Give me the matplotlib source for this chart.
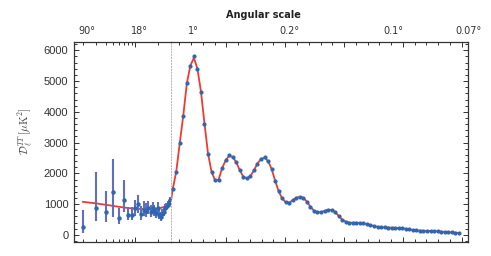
import numpy as np
import matplotlib.pyplot as plt
from matplotlib.ticker import FixedLocator, MultipleLocator, NullFormatter
from matplotlib.transforms import blended_transform_factory

# low-l data (one point per multipole)
ell_lo = list(range(2, 30))
dl_lo = [250, 885, 735, 1400, 540, 1120, 655, 655, 865, 995, 680, 810, 775, 865,
         755, 865, 775, 700, 865, 645, 570, 680, 755, 865, 915, 970, 1025, 1135]
err_lo_minus = [190, 420, 300, 810, 180, 370, 170, 170, 250, 290, 190, 200, 190, 190,
                170, 180, 170, 150, 160, 140, 130, 130, 130, 120, 120, 110, 110, 100]
err_lo_plus = [560, 1145, 700, 1080, 320, 660, 260, 260, 270, 300, 270, 280, 260, 250,
               230, 220, 210, 190, 190, 170, 160, 150, 150, 140, 130, 130, 120, 110]

# high-l binned data (bins of 30)
ell_hi = [44.5 + 30 * i for i in range(82)]
dl_hi = [1490, 2050, 2990, 3880, 4930, 5480, 5820, 5390, 4660, 3620,
         2640, 2050, 1770, 1800, 2170, 2430, 2590, 2535, 2360, 2100,
         1890, 1835, 1910, 2100, 2320, 2480, 2530, 2400, 2150, 1760,
         1420, 1185, 1055, 1045, 1130, 1215, 1240, 1210, 1080, 915,
         790, 735, 740, 780, 825, 815, 740, 620, 500, 430,
         400, 395, 400, 395, 380, 355, 320, 290, 265, 250,
         245, 240, 235, 230, 225, 215, 200, 180, 160, 145,
         140, 135, 130, 130, 125, 120, 110, 100, 90, 80,
         75, 60]

# best-fit model curve
ell_model_lo = list(range(2, 31))
model_lo = [1075, 1025, 980, 945, 915, 892, 875, 862, 854, 848, 845, 843, 843, 844,
            846, 849, 853, 858, 864, 872, 882, 894, 908, 925, 945, 970, 1000, 1045, 1105]
ell_model_hi = [30] + ell_hi
model_hi = [1105, 1490, 2050, 2990, 3890, 4930, 5500, 5760, 5400, 4660, 3620,
            2640, 2050, 1775, 1800, 2170, 2430, 2570, 2535, 2360, 2100,
            1890, 1840, 1910, 2100, 2320, 2470, 2510, 2400, 2150, 1760,
            1420, 1185, 1060, 1050, 1130, 1210, 1235, 1205, 1080, 915,
            790, 738, 742, 780, 818, 810, 740, 620, 500, 430,
            400, 395, 398, 392, 378, 352, 320, 290, 265, 250,
            244, 240, 235, 230, 224, 214, 200, 180, 160, 146,
            140, 135, 131, 129, 125, 119, 110, 100, 90, 80,
            74, 62]

top_ell = [2, 10, 185, 1000, 1880, 2525]
top_labels = ['90°', '18°', '1°', '0.2°', '0.1°', '0.07°']

W, H = 491, 256
fig = plt.figure(figsize=(W / 100, H / 100), dpi=100)
y0, h = 14 / H, 200 / H
axL = fig.add_axes([74 / W, y0, 97 / W, h])
axR = fig.add_axes([171 / W, y0, 297 / W, h], sharey=axL)

point_c = '#2f66b3'
bar_c = '#6070c0'
line_c = '#ee3b32'
spine_c = '#333333'

axL.plot(ell_model_lo, model_lo, color=line_c, lw=1.3, zorder=2)
axL.errorbar(ell_lo, dl_lo, yerr=[err_lo_minus, err_lo_plus], fmt='o', ms=2.2,
             color=point_c, ecolor=bar_c, elinewidth=1.5, capsize=0, zorder=3)
axR.plot(ell_model_hi, model_hi, color=line_c, lw=1.3, zorder=2)
axR.plot(ell_hi, dl_hi, 'o', ms=2.0, color=point_c, zorder=3)

axL.set_xscale('log')
axL.set_xlim(1.516, 30)
axR.set_xlim(30, 2553)
axL.set_ylim(-230, 6270)

for ax in (axL, axR):
    for s in ax.spines.values():
        s.set_color(spine_c)
        s.set_linewidth(0.9)
    ax.tick_params(which='both', direction='in', top=True, bottom=True,
                   color=spine_c, width=0.7, labelbottom=False)
    ax.tick_params(which='major', length=3.5)
    ax.tick_params(which='minor', length=2)

axL.spines['right'].set_visible(False)
axR.spines['left'].set_linestyle((0, (1.5, 2)))
axR.spines['left'].set_color('#aaaaaa')
axR.spines['left'].set_linewidth(0.6)

axL.xaxis.set_major_locator(FixedLocator([10]))
axL.xaxis.set_minor_locator(FixedLocator([2, 3, 4, 5, 6, 7, 8, 9, 20]))
axL.xaxis.set_minor_formatter(NullFormatter())
axR.xaxis.set_major_locator(MultipleLocator(500))
axR.xaxis.set_minor_locator(MultipleLocator(100))

axL.yaxis.set_major_locator(MultipleLocator(1000))
axL.yaxis.set_minor_locator(MultipleLocator(200))
axL.tick_params(axis='y', which='both', left=True, right=False)
axL.tick_params(axis='y', labelsize=8, labelcolor='#333333', pad=4)
for lab in axL.get_yticklabels():
    lab.set_family('Liberation Sans')
axR.tick_params(axis='y', which='both', left=False, right=True, labelleft=False)

# top angular scale labels
for e, lab in zip(top_ell, top_labels):
    ax = axL if e < 30 else axR
    tr = blended_transform_factory(ax.transData, ax.transAxes)
    ax.annotate(lab, xy=(e, 1), xycoords=tr, xytext=(3, 4), textcoords='offset points',
                ha='center', va='bottom', fontsize=7, color='#333333', family='DejaVu Sans')

fig.text(263 / W, 1 - 15 / H, 'Angular scale', ha='center', va='center',
         fontsize=7, fontweight='bold', color='#222222', family='DejaVu Sans')

plt.rcParams['mathtext.fontset'] = 'cm'
fig.text(26 / W, 1 - 131 / H, r'$\mathcal{D}_\ell^{TT}\,[\mu\mathrm{K}^2]$',
         rotation=90, ha='center', va='center', fontsize=8, color='#444444')

fig.savefig('out.png', dpi=100)
